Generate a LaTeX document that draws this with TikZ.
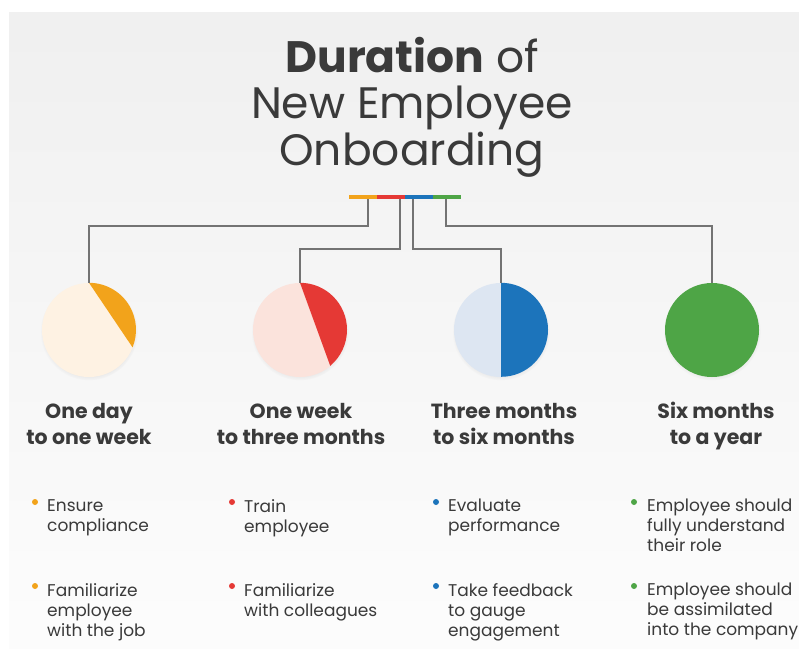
\documentclass[tikz,border=0pt]{standalone}
\usepackage{fontspec}
\setmainfont{Poppins}
\usepackage{tikz}
\usetikzlibrary{shadows}
\definecolor{txt}{HTML}{3A3A3A}
\definecolor{ora}{HTML}{F2A31B}
\definecolor{oralt}{HTML}{FEF2E3}
\definecolor{rd}{HTML}{E53935}
\definecolor{rdlt}{HTML}{FBE3DC}
\definecolor{blu}{HTML}{1C74BB}
\definecolor{blult}{HTML}{DDE6F2}
\definecolor{grn}{HTML}{4EA546}
\tikzstyle{pie}=[circle,minimum size=94pt,inner sep=0pt,circular drop shadow={shadow xshift=0pt,shadow yshift=-1.5pt,shadow scale=1.04,opacity=0.18}]
\tikzstyle{edge} = [draw,line width=1.4pt,black!55]
\tikzstyle{head}=[align=center,text=txt,font=\bfseries\fontsize{20.5}{25.5}\selectfont]
\tikzstyle{item}=[anchor=north west,align=left,inner sep=0pt,text=txt,font=\fontsize{17}{20}\selectfont]
\tikzstyle{dot}=[circle,inner sep=0pt,minimum size=6pt]

\begin{document}
\begin{tikzpicture}[x=1pt,y=-1pt]
      \useasboundingbox (0,0) rectangle (799,648);
      \fill[white] (0,0) rectangle (799,648);
      \shade[top color=black!6,bottom color=black!1] (9,12) rectangle (799,648);

      % title
      \node[align=center,text=txt,font=\fontsize{44}{46.5}\selectfont] (t) at (412,107)
        {{\bfseries Duration} of\\New Employee\\Onboarding};

      % colour bar
      \draw[line width=4pt,ora] (349,197) -- (377,197);
      \draw[line width=4pt,rd] (377,197) -- (405,197);
      \draw[line width=4pt,blu] (405,197) -- (433,197);
      \draw[line width=4pt,grn] (433,197) -- (461,197);
      \coordinate (o) at (368,199);
      \coordinate (r) at (400,199);
      \coordinate (b) at (413,199);
      \coordinate (g) at (446,199);

      % pies
      \node[pie,fill=oralt] (a) at (89,330) {};
      \fill[ora] (a.north) arc[start angle=-90,end angle=22,radius=47] -- cycle;
      \node[pie,fill=rdlt] (c) at (300,330) {};
      \fill[rd] (c.north) arc[start angle=-90,end angle=50,radius=47] -- cycle;
      \node[pie,fill=blult] (d) at (501,330) {};
      \fill[blu] (d.north) arc[start angle=-90,end angle=90,radius=47] -- cycle;
      \node[pie,fill=grn] (e) at (712,330) {};

      \draw[edge] (o) -- ++(0,27) -| (a.north);
      \draw[edge] (r) -- ++(0,50) -| (c.north);
      \draw[edge] (b) -- ++(0,50) -| (d.north);
      \draw[edge] (g) -- ++(0,27) -| (e.north);

      % headings
      \node[head] (h1) at (89,424) {One day\\to one week};
      \node[head] (h2) at (301,424) {One week\\to three months};
      \node[head] (h3) at (504,424) {Three months\\to six months};
      \node[head] (h4) at (716,426) {Six months\\to a year};

      % tasks
      \node[dot,fill=ora] (d1) at (35,502) {};
      \node[item] (i1) at (47,499) {Ensure\\compliance};
      \node[dot,fill=ora] (d2) at (35,586) {};
      \node[item] (i2) at (47,583) {Familiarize\\employee\\with the job};
      \node[dot,fill=rd] (d3) at (232,502) {};
      \node[item] (i3) at (244,499) {Train\\employee};
      \node[dot,fill=rd] (d4) at (232,586) {};
      \node[item] (i4) at (244,583) {Familiarize\\with colleagues};
      \node[dot,fill=blu] (d5) at (436,502) {};
      \node[item] (i5) at (448,499) {Evaluate\\performance};
      \node[dot,fill=blu] (d6) at (436,586) {};
      \node[item] (i6) at (448,583) {Take feedback\\to gauge\\engagement};
      \node[dot,fill=grn] (d7) at (634,502) {};
      \node[item] (i7) at (647,499) {Employee should\\fully understand\\their role};
      \node[dot,fill=grn] (d8) at (634,586) {};
      \node[item] (i8) at (647,583) {Employee should\\be assimilated\\into the company};
\end{tikzpicture}
\end{document}
